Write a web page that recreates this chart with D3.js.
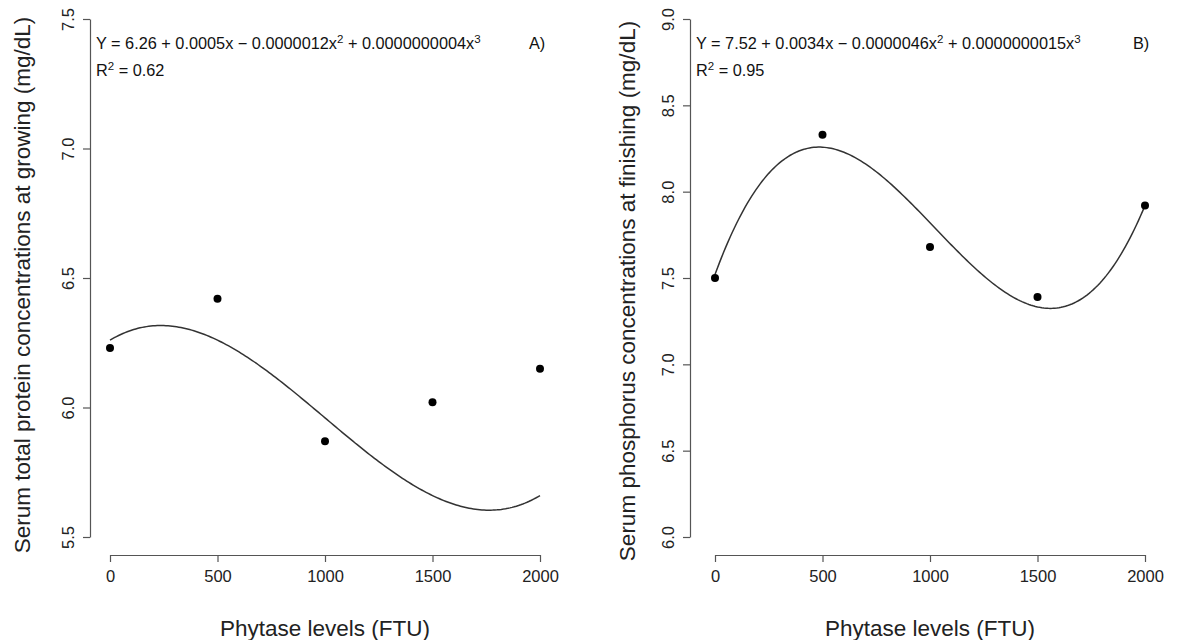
<!DOCTYPE html>
<html>
<head>
<meta charset="utf-8">
<script src="https://cdn.jsdelivr.net/npm/d3@7"></script>
<style>
  html, body { margin: 0; padding: 0; background: #fff; }
  svg { display: block; font-family: "Liberation Sans", Arial, Helvetica, sans-serif; }
</style>
</head>
<body>
<svg id="chart" width="1183" height="640"></svg>
<script>
// ---- Data ----
const phytaseLevels = [0, 500, 1000, 1500, 2000];
const proteinGrowing = [6.23, 6.42, 5.87, 6.02, 6.15];
const phosphorusFinishing = [7.50, 8.33, 7.68, 7.39, 7.92];
const coefA = [6.26, 0.0005, -0.0000012, 0.0000000004];
const coefB = [7.52, 0.0034, -0.0000046, 0.0000000015];
const xTicks = [0, 500, 1000, 1500, 2000];
const yTicksA = [5.5, 6.0, 6.5, 7.0, 7.5];
const yTicksB = [6.0, 6.5, 7.0, 7.5, 8.0, 8.5, 9.0];
const eqA = ["Y = 6.26 + 0.0005x \u2212 0.0000012x", "2", " + 0.0000000004x", "3"];
const eqB = ["Y = 7.52 + 0.0034x \u2212 0.0000046x", "2", " + 0.0000000015x", "3"];
const r2A = "0.62", r2B = "0.95";

const svg = d3.select("#chart");
const axisColor = "#555";
const textColor = "#222";

function poly(c, x) { return c[0] + c[1]*x + c[2]*x*x + c[3]*x*x*x; }

function panel(opt) {
  const g = svg.append("g");
  const x = d3.scaleLinear().domain([0, 2000]).range([opt.x0, opt.x1]);
  const y = d3.scaleLinear().domain(opt.yDomain).range([537, 19]);

  // y axis
  const yAxis = g.append("g").attr("transform", `translate(${opt.yAxisX},0)`)
    .call(d3.axisLeft(y).tickValues(opt.yTicks).tickSize(7).tickSizeOuter(0).tickFormat(d3.format(".1f")));
  yAxis.attr("font-family", null);
  yAxis.select(".domain").attr("stroke", axisColor).attr("stroke-width", 1.2);
  yAxis.selectAll(".tick line").attr("stroke", axisColor).attr("stroke-width", 1.2);
  yAxis.selectAll(".tick text")
    .attr("x", null).attr("dy", null)
    .attr("transform", `translate(${opt.yTickLabelX - opt.yAxisX},0) rotate(-90)`)
    .attr("text-anchor", "middle").attr("dominant-baseline", "central")
    .attr("font-size", 16.5).attr("fill", textColor);

  // x axis
  const xAxis = g.append("g").attr("transform", `translate(0,555)`)
    .call(d3.axisBottom(x).tickValues(xTicks).tickSize(7).tickSizeOuter(0).tickFormat(d3.format("d")));
  xAxis.attr("font-family", null);
  xAxis.select(".domain").attr("stroke", axisColor).attr("stroke-width", 1.2);
  xAxis.selectAll(".tick line").attr("stroke", axisColor).attr("stroke-width", 1.2);
  xAxis.selectAll(".tick text").attr("y", 22).attr("dy", "0.32em")
    .attr("font-size", 16.5).attr("fill", textColor);

  // axis titles
  g.append("text").attr("x", (opt.x0 + opt.x1) / 2).attr("y", 628)
    .attr("text-anchor", "middle").attr("dominant-baseline", "central")
    .attr("font-size", 22.5).attr("fill", textColor).text("Phytase levels (FTU)");
  g.append("text").attr("transform", `translate(${opt.yTitleX},${opt.yTitleY}) rotate(-90)`)
    .attr("text-anchor", "middle").attr("dominant-baseline", "central")
    .attr("font-size", 22.5).attr("fill", textColor).text(opt.yTitle);

  // curve
  const xs = d3.range(0, 2001, 10);
  const line = d3.line().x(d => x(d)).y(d => y(poly(opt.coef, d))).curve(d3.curveLinear);
  g.append("path").datum(xs).attr("d", line)
    .attr("fill", "none").attr("stroke", "#333").attr("stroke-width", 1.5);

  // points
  g.selectAll("circle.pt").data(phytaseLevels.map((d, i) => [d, opt.values[i]]))
    .join("circle").attr("class", "pt")
    .attr("cx", d => x(d[0])).attr("cy", d => y(d[1])).attr("r", 4).attr("fill", "#000");

  // equation
  const eq = g.append("text").attr("x", opt.yAxisX + 6).attr("y", 49)
    .attr("font-size", 16.3).attr("fill", "#111");
  eq.append("tspan").text(opt.eq[0]);
  eq.append("tspan").attr("dy", -6).attr("font-size", 11.5).text(opt.eq[1]);
  eq.append("tspan").attr("dy", 6).text(opt.eq[2]);
  eq.append("tspan").attr("dy", -6).attr("font-size", 11.5).text(opt.eq[3]);

  const r2 = g.append("text").attr("x", opt.yAxisX + 6).attr("y", 76)
    .attr("font-size", 16.3).attr("fill", "#111");
  r2.append("tspan").text("R");
  r2.append("tspan").attr("dy", -6).attr("font-size", 11.5).text("2");
  r2.append("tspan").attr("dy", 6).text(" = " + opt.r2);

  g.append("text").attr("x", opt.labelX).attr("y", 49)
    .attr("font-size", 16.3).attr("fill", "#111").text(opt.label);
}

panel({
  x0: 110, x1: 540, yAxisX: 90, yTickLabelX: 68, yDomain: [5.5, 7.5], yTicks: yTicksA,
  yTitleX: 22, yTitleY: 285, yTitle: "Serum total protein concentrations at growing (mg/dL)",
  coef: coefA, values: proteinGrowing, eq: eqA, r2: r2A, label: "A)", labelX: 529
});
panel({
  x0: 715, x1: 1145, yAxisX: 690, yTickLabelX: 668, yDomain: [6.0, 9.0], yTicks: yTicksB,
  yTitleX: 627, yTitleY: 291, yTitle: "Serum phosphorus concentrations at finishing (mg/dL)",
  coef: coefB, values: phosphorusFinishing, eq: eqB, r2: r2B, label: "B)", labelX: 1133
});
</script>
</body>
</html>
